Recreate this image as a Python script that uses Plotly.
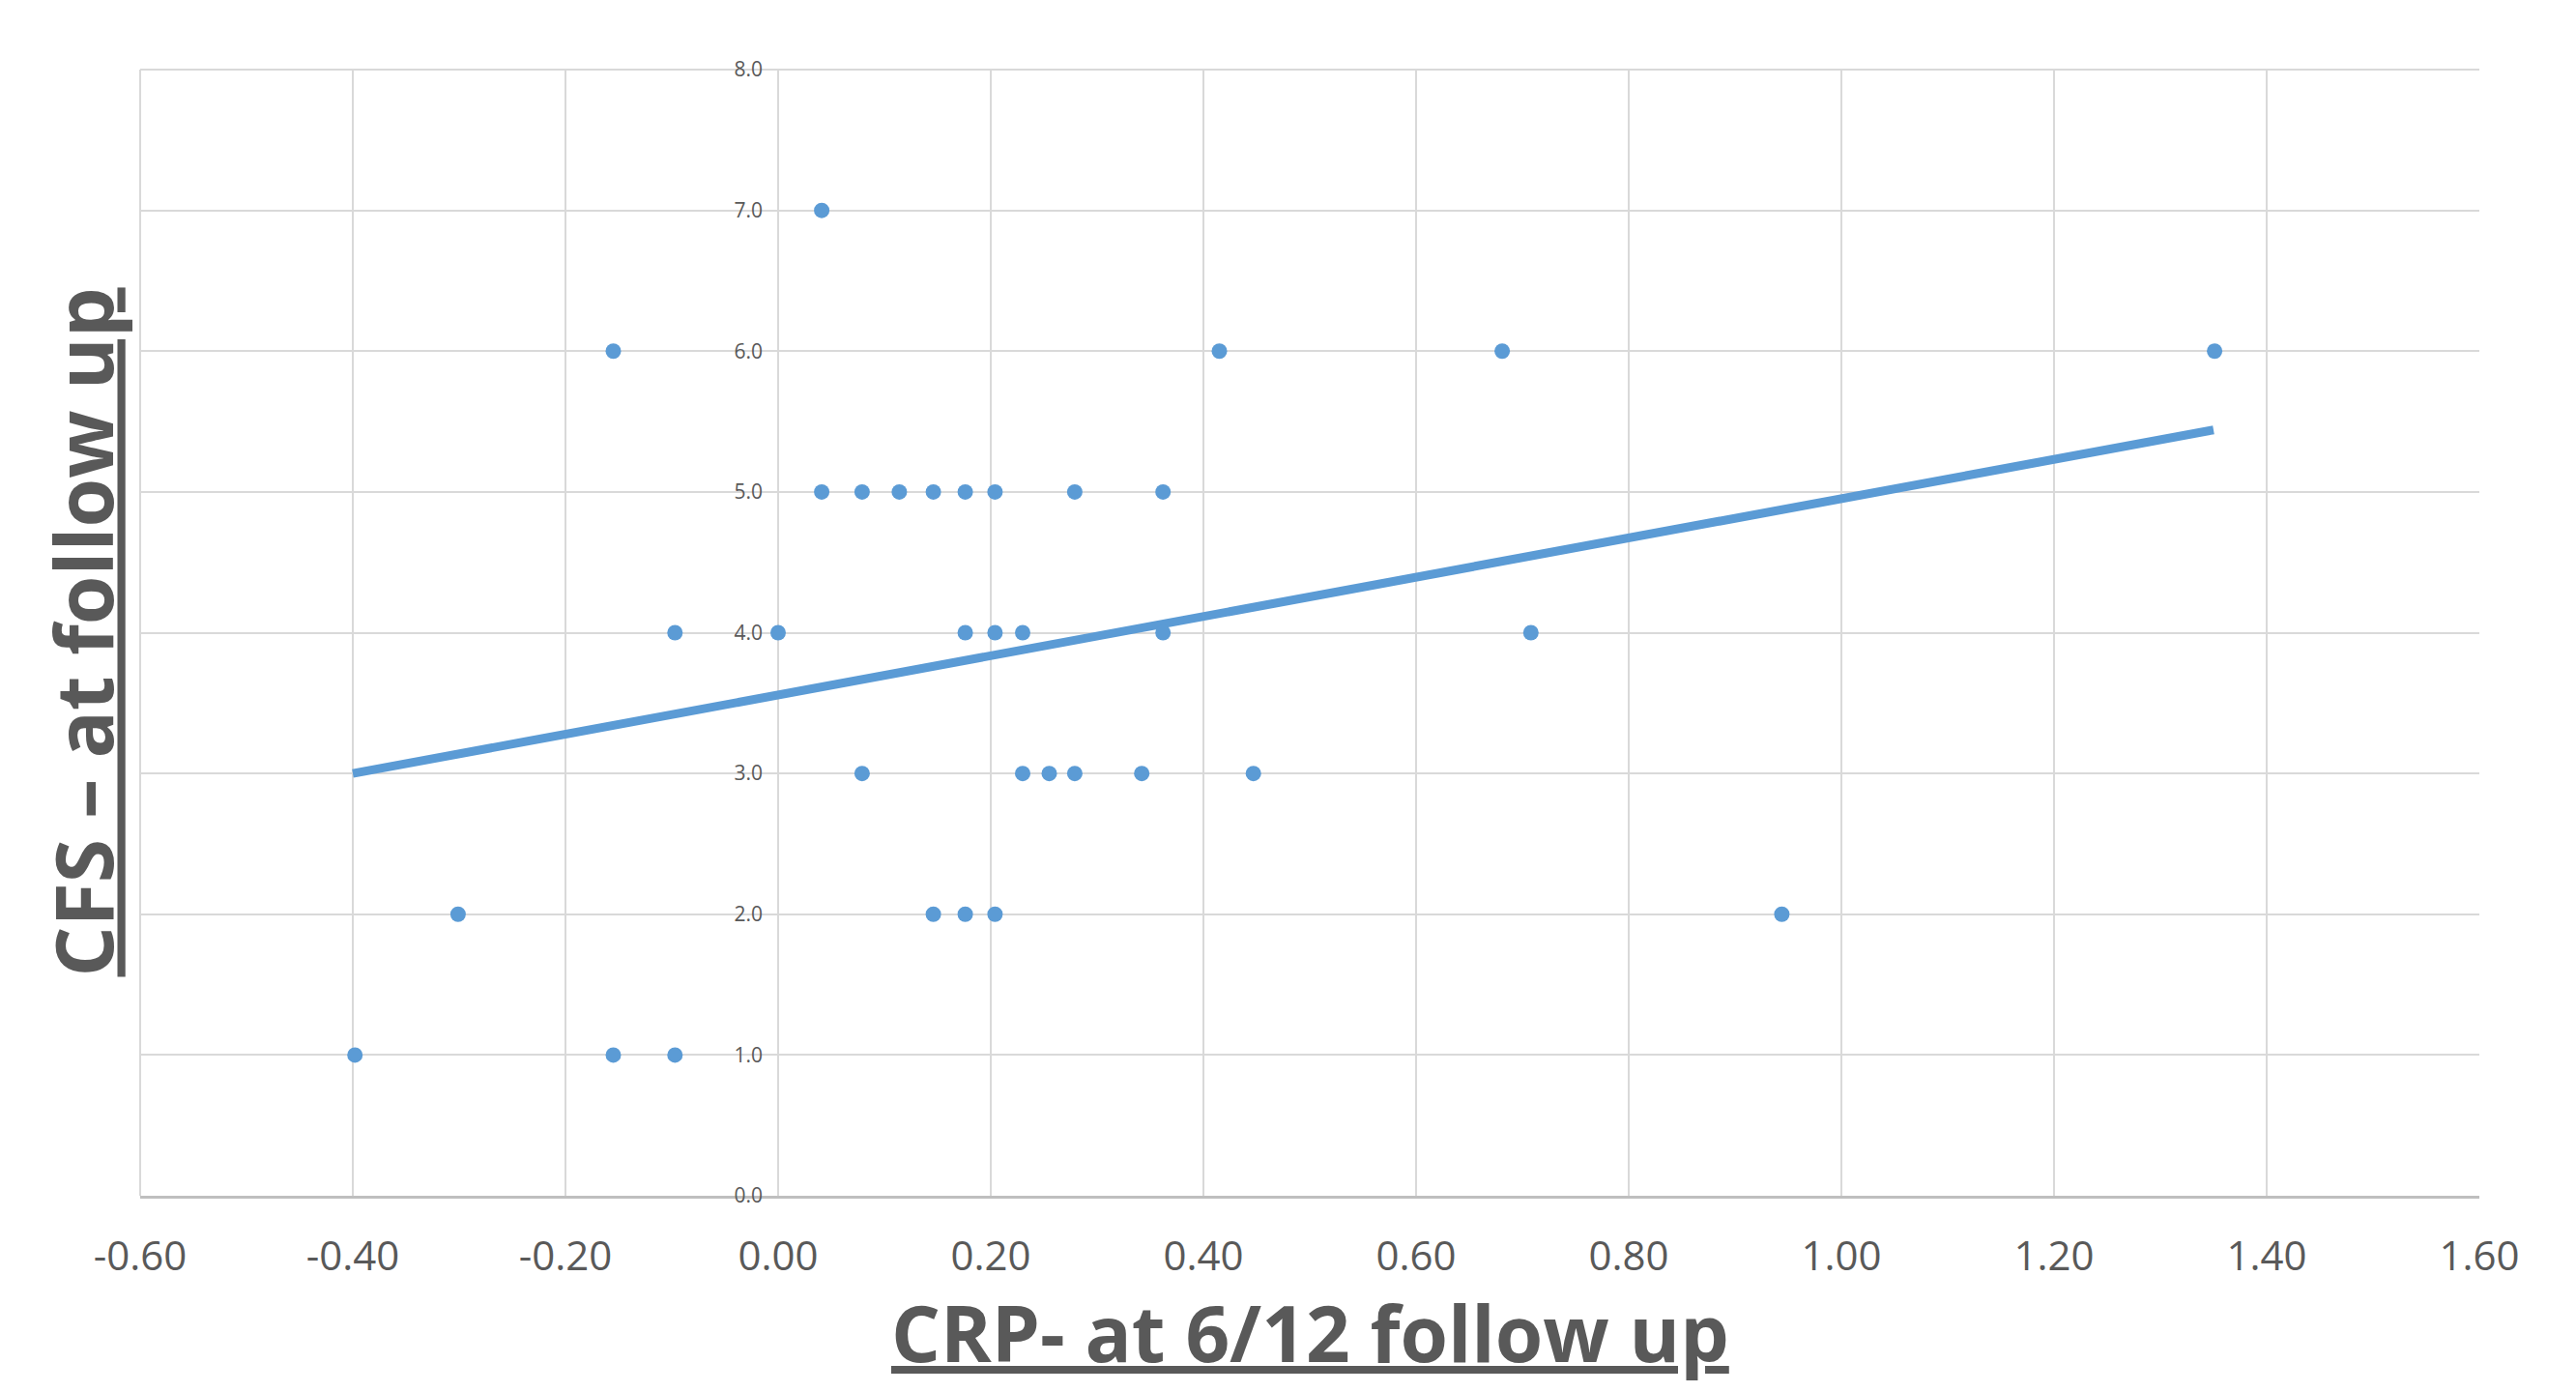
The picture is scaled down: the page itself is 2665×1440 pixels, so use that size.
import plotly.graph_objects as go

# Data
crp_log = [0.041, -0.155, 0.415, 0.681, 1.351,
           0.041, 0.079, 0.114, 0.146, 0.176, 0.204, 0.279, 0.362,
           -0.097, 0.000, 0.176, 0.204, 0.230, 0.362, 0.708,
           0.079, 0.230, 0.255, 0.279, 0.342, 0.447,
           -0.301, 0.146, 0.176, 0.204, 0.944,
           -0.398, -0.155, -0.097]
cfs = [7, 6, 6, 6, 6,
       5, 5, 5, 5, 5, 5, 5, 5,
       4, 4, 4, 4, 4, 4, 4,
       3, 3, 3, 3, 3, 3,
       2, 2, 2, 2, 2,
       1, 1, 1]

trend_x = [-0.40, 1.35]
trend_y = [3.00, 5.44]

x_ticks = [-0.6, -0.4, -0.2, 0.0, 0.2, 0.4, 0.6, 0.8, 1.0, 1.2, 1.4, 1.6]
x_tick_labels = ["-0.60", "-0.40", "-0.20", "0.00", "0.20", "0.40",
                 "0.60", "0.80", "1.00", "1.20", "1.40", "1.60"]
y_ticks = [0, 1, 2, 3, 4, 5, 6, 7, 8]
y_tick_labels = ["0.0", "1.0", "2.0", "3.0", "4.0", "5.0", "6.0", "7.0", "8.0"]

x_title = "<u>CRP- at 6/12 follow up</u>"
y_title = "<u>CFS – at follow up</u>"

BLUE = "#5b9bd5"
TEXT = "#595959"
GRID = "#d9d9d9"
FONT = "Open Sans"

fig = go.Figure()
fig.add_trace(go.Scatter(
    x=trend_x, y=trend_y, mode="lines",
    line=dict(color=BLUE, width=9), hoverinfo="skip", showlegend=False,
))
fig.add_trace(go.Scatter(
    x=crp_log, y=cfs, mode="markers",
    marker=dict(color=BLUE, size=16, line=dict(width=0)), showlegend=False,
))

fig.update_layout(
    width=2665, height=1440,
    margin=dict(l=145, r=100, t=72, b=203),
    paper_bgcolor="white", plot_bgcolor="white",
    font=dict(family=FONT, color=TEXT),
    xaxis=dict(
        range=[-0.6, 1.6], tickvals=x_ticks, ticktext=x_tick_labels,
        showgrid=True, gridcolor=GRID, gridwidth=2,
        zeroline=False, showline=True, linecolor="#bfbfbf", linewidth=3,
        ticks="", tickfont=dict(size=42, color=TEXT, family=FONT),
        ticklabelstandoff=24,
    ),
    yaxis=dict(
        range=[0, 8], tickvals=y_ticks, ticktext=y_tick_labels,
        showgrid=True, gridcolor=GRID, gridwidth=2,
        zeroline=False, showline=False,
        anchor="free", position=0.6 / 2.2,
        ticks="", tickfont=dict(size=21, color=TEXT, family=FONT),
        ticklabelstandoff=16,
    ),
    shapes=[
        dict(type="line", xref="paper", yref="paper", x0=0, x1=0, y0=0, y1=1,
             line=dict(color=GRID, width=2), layer="below"),
        dict(type="line", xref="paper", yref="paper", x0=0, x1=1, y0=1, y1=1,
             line=dict(color=GRID, width=2), layer="below"),
    ],
    annotations=[
        dict(text=x_title, xref="paper", yref="paper", x=0.5, y=0,
             xanchor="center", yanchor="middle", yshift=-140, showarrow=False,
             font=dict(size=80, color=TEXT, family=FONT, weight="bold")),
        dict(text=y_title, xref="paper", yref="paper", x=0, y=0.5,
             xanchor="center", yanchor="middle", xshift=-61, textangle=-90,
             showarrow=False,
             font=dict(size=82, color=TEXT, family=FONT, weight="bold")),
    ],
)

fig.write_html("out.html")
